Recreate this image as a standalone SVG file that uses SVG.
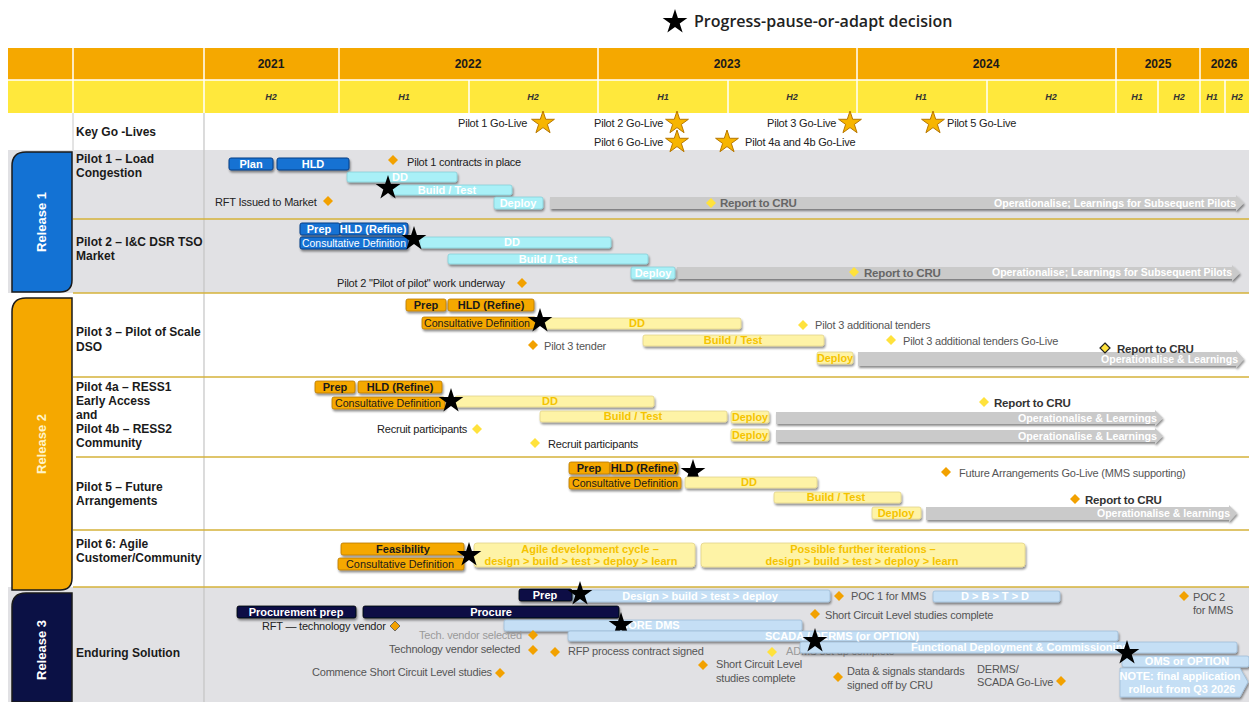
<svg xmlns="http://www.w3.org/2000/svg" xmlns:xlink="http://www.w3.org/1999/xlink" width="1249" height="702" viewBox="0 0 1249 702">
<defs>
<style>
text{font-family:"Liberation Sans",Arial,sans-serif}
.lbl{font-size:12px;font-weight:bold;fill:#1a1a1a}
.yr{font-size:12px;font-weight:bold;fill:#1a1a1a;text-anchor:middle}
.hh{font-size:9px;font-weight:bold;font-style:italic;fill:#333;text-anchor:middle}
.sm{font-size:11px;fill:#222;letter-spacing:-0.2px}
.g{font-size:11px;fill:#555;letter-spacing:-0.2px}
.lg{font-size:11px;fill:#9a9a9a;letter-spacing:-0.2px}
.cru{font-size:11.5px;font-weight:bold;fill:#333;letter-spacing:-0.2px}
.bt{font-size:11px;font-weight:bold;fill:#fff;text-anchor:middle}
.ot{font-size:11px;font-weight:bold;fill:#1a1a1a;text-anchor:middle}
.yt{font-size:11px;font-weight:bold;fill:#F5C300;text-anchor:middle}
.cdw{font-size:10px;fill:#fff;text-anchor:middle}
.cdo{font-size:10px;fill:#1a1a1a;text-anchor:middle}
.at{font-size:11px;font-weight:bold;fill:#fff;text-anchor:end}
.blue{fill:#1572D3;stroke:#0B3F86;stroke-width:1}
.cyan{fill:#A9F0F7;stroke:#86CFD8;stroke-width:0.8}
.org{fill:#F5A800;stroke:#B87800;stroke-width:0.8}
.pale{fill:#FEF3A6;stroke:#E2D38C;stroke-width:0.8}
.navy{fill:#0B1145;stroke:#000;stroke-width:0.8}
.lb{fill:#C5DFF5;stroke:#9EBCD8;stroke-width:0.8}
.arr{fill:#CACACA}
.dO{fill:#F2A100}
.dY{fill:#FFE23C}
.sep{stroke:#D4B23A;stroke-width:1.6}
.bar{filter:url(#sh)}
</style>
<filter id="sh" x="-10%" y="-40%" width="120%" height="200%">
<feDropShadow dx="1" dy="2" stdDeviation="0.8" flood-color="#000" flood-opacity="0.45"/>
</filter>
<path id="bs" d="M0,-13 L2.92,-4.02 L12.36,-4.02 L4.72,1.53 L7.64,10.52 L0,4.97 L-7.64,10.52 L-4.72,1.53 L-12.36,-4.02 L-2.92,-4.02 Z" fill="#000"/>
<path id="os" d="M0,-12 L2.7,-3.71 L11.41,-3.71 L4.36,1.41 L7.05,9.71 L0,4.59 L-7.05,9.71 L-4.36,1.41 L-11.41,-3.71 L-2.7,-3.71 Z" fill="#F7B500" stroke="#B77700" stroke-width="1"/>
<path id="dm" d="M0,-5 L5,0 L0,5 L-5,0 Z"/>
</defs>

<rect x="0" y="0" width="1249" height="702" fill="#fff"/>

<!-- legend -->
<g id="legend">
<use href="#bs" x="675" y="22"/>
<text x="694" y="27" style="font-family:'Open Sans',sans-serif;font-size:16px;font-weight:600;fill:#222">Progress-pause-or-adapt decision</text>
</g>

<!-- header -->
<g id="header">
<rect x="8" y="48" width="1241" height="32" fill="#F5A800"/>
<rect x="8" y="80" width="1241" height="33" fill="#FFE83C"/>
<g stroke="#fff" stroke-width="1.5">
<line x1="8" y1="80" x2="1249" y2="80"/>
<line x1="73" y1="48" x2="73" y2="113"/><line x1="204" y1="48" x2="204" y2="113"/>
<line x1="339" y1="48" x2="339" y2="113"/><line x1="598" y1="48" x2="598" y2="113"/>
<line x1="857" y1="48" x2="857" y2="113"/><line x1="1116" y1="48" x2="1116" y2="113"/>
<line x1="1200" y1="48" x2="1200" y2="113"/>
<line x1="469" y1="80" x2="469" y2="113"/><line x1="728" y1="80" x2="728" y2="113"/>
<line x1="987" y1="80" x2="987" y2="113"/><line x1="1158" y1="80" x2="1158" y2="113"/>
<line x1="1225" y1="80" x2="1225" y2="113"/>
</g>
<text class="yr" x="271" y="68">2021</text>
<text class="yr" x="468" y="68">2022</text>
<text class="yr" x="727" y="68">2023</text>
<text class="yr" x="986" y="68">2024</text>
<text class="yr" x="1158" y="68">2025</text>
<text class="yr" x="1224" y="68">2026</text>
<text class="hh" x="271" y="100">H2</text>
<text class="hh" x="404" y="100">H1</text>
<text class="hh" x="533" y="100">H2</text>
<text class="hh" x="663" y="100">H1</text>
<text class="hh" x="792" y="100">H2</text>
<text class="hh" x="921" y="100">H1</text>
<text class="hh" x="1051" y="100">H2</text>
<text class="hh" x="1137" y="100">H1</text>
<text class="hh" x="1179" y="100">H2</text>
<text class="hh" x="1212" y="100">H1</text>
<text class="hh" x="1237" y="100">H2</text>
</g>

<!-- row backgrounds -->
<g id="rows">
<rect x="8" y="150" width="1241" height="143" fill="#E1E1E4"/>
<rect x="8" y="587" width="1241" height="115" fill="#E1E1E4"/>
<line x1="73" y1="113" x2="73" y2="150" stroke="#c8c8c8" stroke-width="1"/>
<line x1="204" y1="113" x2="204" y2="702" stroke="#C4C4C4" stroke-width="1.2"/>
<line class="sep" x1="73" y1="219" x2="1249" y2="219"/>
<line class="sep" x1="73" y1="293" x2="1249" y2="293"/>
<line class="sep" x1="73" y1="377" x2="1249" y2="377"/>
<line class="sep" x1="76" y1="457" x2="1249" y2="457"/>
<line class="sep" x1="73" y1="530" x2="1249" y2="530"/>
<line class="sep" x1="73" y1="587" x2="1249" y2="587"/>
</g>

<!-- release tabs -->
<g id="release1">
<path d="M12,166 Q12,152 26,152 L72,152 L72,280 Q72,292 60,292 L12,292 Z" fill="#1372D4" stroke="#1a1a1a" stroke-width="1.5"/>
<text transform="translate(46,222) rotate(-90)" text-anchor="middle" style="font-size:13px;font-weight:bold;fill:#fff">Release 1</text>
</g>
<g id="release2">
<path d="M12,312 Q12,298 26,298 L72,298 L72,578 Q72,590 60,590 L12,590 Z" fill="#F5A800" stroke="#1a1a1a" stroke-width="1.5"/>
<text transform="translate(46,444) rotate(-90)" text-anchor="middle" style="font-size:13px;font-weight:bold;fill:#FFF4C8">Release 2</text>
</g>
<g id="release3">
<path d="M12,607 Q12,593 26,593 L72,593 L72,702 L12,702 Z" fill="#0B1145" stroke="#1a1a1a" stroke-width="1.5"/>
<text transform="translate(46,650) rotate(-90)" text-anchor="middle" style="font-size:13px;font-weight:bold;fill:#fff">Release 3</text>
</g>

<!-- row names -->
<g id="names">
<text class="lbl" x="76" y="136">Key Go -Lives</text>
<text class="lbl" x="76" y="163">Pilot 1 – Load</text>
<text class="lbl" x="76" y="177">Congestion</text>
<text class="lbl" x="76" y="246">Pilot 2 – I&amp;C DSR TSO</text>
<text class="lbl" x="76" y="260">Market</text>
<text class="lbl" x="76" y="336">Pilot 3 – Pilot of Scale</text>
<text class="lbl" x="76" y="351">DSO</text>
<text class="lbl" x="76" y="391">Pilot 4a – RESS1</text>
<text class="lbl" x="76" y="405">Early Access</text>
<text class="lbl" x="76" y="419">and</text>
<text class="lbl" x="76" y="433">Pilot 4b – RESS2</text>
<text class="lbl" x="76" y="447">Community</text>
<text class="lbl" x="76" y="491">Pilot 5 – Future</text>
<text class="lbl" x="76" y="505">Arrangements</text>
<text class="lbl" x="76" y="548">Pilot 6: Agile</text>
<text class="lbl" x="76" y="562">Customer/Community</text>
<text class="lbl" x="76" y="657">Enduring Solution</text>
</g>

<!-- key go-lives -->
<g id="golives">
<text class="sm" x="458" y="127">Pilot 1 Go-Live</text><use href="#os" x="543" y="123"/>
<text class="sm" x="594" y="127">Pilot 2 Go-Live</text><use href="#os" x="677" y="123"/>
<text class="sm" x="767" y="127">Pilot 3 Go-Live</text><use href="#os" x="850" y="123"/>
<use href="#os" x="933" y="123"/><text class="sm" x="947" y="127">Pilot 5 Go-Live</text>
<text class="sm" x="594" y="146">Pilot 6 Go-Live</text><use href="#os" x="677" y="142"/>
<use href="#os" x="727" y="142"/><text class="sm" x="745" y="146">Pilot 4a and 4b Go-Live</text>
</g>

<!-- connectors: operationalise arrows -->
<g id="connectors" class="bar">
<polygon class="arr" points="550,197 1236,197 1236,195 1244,203 1236,211 1236,209 550,209"/>
<polygon class="arr" points="677,267 1232,267 1232,265 1240,273 1232,281 1232,279 677,279"/>
<polygon class="arr" points="858,352 1236,352 1236,350 1244,359 1236,368 1236,366 858,366"/>
<polygon class="arr" points="776,412 1155,412 1155,410 1163,418 1155,426 1155,424 776,424"/>
<polygon class="arr" points="776,430 1155,430 1155,428 1163,436 1155,444 1155,442 776,442"/>
<polygon class="arr" points="926,507 1229,507 1229,505 1237,513 1229,522 1229,520 926,520"/>
</g>

<!-- Pilot 1 -->
<g id="pilot1">
<rect class="blue bar" x="229" y="158" width="44" height="12" rx="2"/><text class="bt" x="251" y="168">Plan</text>
<rect class="blue bar" x="277" y="158" width="72" height="12" rx="2"/><text class="bt" x="313" y="168">HLD</text>
<use href="#dm" x="393" y="160" class="dO"/><text class="sm" x="407" y="166">Pilot 1 contracts in place</text>
<rect class="cyan bar" x="347" y="172" width="110" height="10" rx="2"/><text class="bt" x="400" y="181">DD</text>
<rect class="cyan bar" x="390" y="185" width="122" height="10" rx="2"/><text class="bt" x="447" y="194">Build / Test</text>
<use href="#bs" x="388" y="188"/>
<text class="sm" x="215" y="206">RFT Issued to Market</text><use href="#dm" x="328" y="201" class="dO"/>
<rect class="cyan bar" x="494" y="197" width="49" height="12" rx="2"/><text class="bt" x="518" y="207">Deploy</text>
<use href="#dm" x="711" y="203" class="dY"/><text class="cru" x="720" y="207" style="fill:#666">Report to CRU</text>
<text class="at" x="1236" y="207" textLength="242" lengthAdjust="spacingAndGlyphs">Operationalise; Learnings for Subsequent Pilots</text>
</g>

<!-- Pilot 2 -->
<g id="pilot2">
<rect class="blue bar" x="300" y="223" width="40" height="12" rx="2"/><text class="bt" x="319" y="233">Prep</text>
<rect class="blue bar" x="340" y="223" width="68" height="12" rx="2"/><text class="bt" x="373" y="233">HLD (Refine)</text>
<rect class="blue bar" x="300" y="237" width="108" height="12" rx="2"/><text class="cdw" x="354" y="247" textLength="104" lengthAdjust="spacingAndGlyphs">Consultative Definition</text>
<rect class="cyan bar" x="420" y="237" width="191" height="11" rx="2"/><text class="bt" x="512" y="246">DD</text>
<use href="#bs" x="414" y="239"/>
<rect class="cyan bar" x="448" y="254" width="200" height="10" rx="2"/><text class="bt" x="548" y="263">Build / Test</text>
<rect class="cyan bar" x="631" y="267" width="44" height="12" rx="2"/><text class="bt" x="653" y="277">Deploy</text>
<use href="#dm" x="854" y="272" class="dY"/><text class="cru" x="864" y="277" style="fill:#666">Report to CRU</text>
<text class="at" x="1232" y="276" textLength="240" lengthAdjust="spacingAndGlyphs">Operationalise; Learnings for Subsequent Pilots</text>
<text class="sm" x="337" y="287">Pilot 2 "Pilot of pilot" work underway</text><use href="#dm" x="522" y="283" class="dO"/>
</g>

<!-- Pilot 3 -->
<g id="pilot3">
<rect class="org bar" x="406" y="299" width="40" height="12" rx="2"/><text class="ot" x="426" y="309">Prep</text>
<rect class="org bar" x="448" y="299" width="86" height="12" rx="2"/><text class="ot" x="491" y="309">HLD (Refine)</text>
<rect class="org bar" x="422" y="317" width="114" height="12" rx="2"/><text class="cdo" x="477" y="327" textLength="106" lengthAdjust="spacingAndGlyphs">Consultative Definition</text>
<rect class="pale bar" x="545" y="318" width="196" height="11" rx="2"/><text class="yt" x="637" y="327">DD</text>
<use href="#bs" x="540" y="321"/>
<use href="#dm" x="803" y="325" class="dY"/><text class="g" x="815" y="329">Pilot 3 additional tenders</text>
<use href="#dm" x="533" y="345" class="dO"/><text class="g" x="544" y="350">Pilot 3 tender</text>
<rect class="pale bar" x="643" y="335" width="181" height="11" rx="2"/><text class="yt" x="733" y="344">Build / Test</text>
<use href="#dm" x="891" y="340" class="dY"/><text class="g" x="903" y="345">Pilot 3 additional tenders Go-Live</text>
<rect class="pale bar" x="817" y="352" width="36" height="12" rx="2"/><text class="yt" x="835" y="362" textLength="36" lengthAdjust="spacingAndGlyphs">Deploy</text>
<use href="#dm" x="1105" y="348" fill="#FFE23C" stroke="#222" stroke-width="1.2"/><text class="cru" x="1117" y="353">Report to CRU</text>
<text class="at" x="1238" y="363" textLength="137" lengthAdjust="spacingAndGlyphs">Operationalise &amp; Learnings</text>
</g>

<!-- Pilot 4 -->
<g id="pilot4">
<rect class="org bar" x="315" y="381" width="40" height="12" rx="2"/><text class="ot" x="335" y="391">Prep</text>
<rect class="org bar" x="358" y="381" width="84" height="12" rx="2"/><text class="ot" x="400" y="391">HLD (Refine)</text>
<rect class="org bar" x="332" y="397" width="113" height="12" rx="2"/><text class="cdo" x="388" y="407" textLength="106" lengthAdjust="spacingAndGlyphs">Consultative Definition</text>
<rect class="pale bar" x="455" y="396" width="199" height="11" rx="2"/><text class="yt" x="550" y="405">DD</text>
<use href="#bs" x="451" y="401"/>
<rect class="pale bar" x="540" y="411" width="187" height="11" rx="2"/><text class="yt" x="633" y="420">Build / Test</text>
<rect class="pale bar" x="731" y="411" width="38" height="12" rx="2"/><text class="yt" x="750" y="421" textLength="36" lengthAdjust="spacingAndGlyphs">Deploy</text>
<rect class="pale bar" x="731" y="429" width="38" height="12" rx="2"/><text class="yt" x="750" y="439" textLength="36" lengthAdjust="spacingAndGlyphs">Deploy</text>
<text class="at" x="1157" y="422" textLength="139" lengthAdjust="spacingAndGlyphs">Operationalise &amp; Learnings</text>
<text class="at" x="1157" y="440" textLength="139" lengthAdjust="spacingAndGlyphs">Operationalise &amp; Learnings</text>
<use href="#dm" x="984" y="402" class="dY"/><text class="cru" x="994" y="407">Report to CRU</text>
<text class="sm" x="377" y="433">Recruit participants</text><use href="#dm" x="477" y="429" class="dY"/>
<use href="#dm" x="535" y="443" class="dY"/><text class="sm" x="548" y="448">Recruit participants</text>
</g>

<!-- Pilot 5 -->
<g id="pilot5">
<rect class="org bar" x="569" y="462" width="41" height="12" rx="2"/><text class="ot" x="589" y="472">Prep</text>
<rect class="org bar" x="610" y="462" width="68" height="12" rx="2"/><text class="ot" x="644" y="472">HLD (Refine)</text>
<rect class="org bar" x="569" y="477" width="112" height="12" rx="2"/><text class="cdo" x="625" y="487" textLength="106" lengthAdjust="spacingAndGlyphs">Consultative Definition</text>
<use href="#bs" x="693" y="472"/>
<rect class="pale bar" x="685" y="477" width="132" height="11" rx="2"/><text class="yt" x="749" y="486">DD</text>
<rect class="pale bar" x="774" y="492" width="127" height="11" rx="2"/><text class="yt" x="836" y="501">Build / Test</text>
<rect class="pale bar" x="872" y="507" width="49" height="12" rx="2"/><text class="yt" x="896" y="517">Deploy</text>
<text class="at" x="1230" y="517" textLength="133" lengthAdjust="spacingAndGlyphs">Operationalise &amp; learnings</text>
<use href="#dm" x="946" y="472" class="dO"/><text class="g" x="959" y="477">Future Arrangements Go-Live (MMS supporting)</text>
<use href="#dm" x="1075" y="499" class="dO"/><text class="cru" x="1085" y="504">Report to CRU</text>
</g>

<!-- Pilot 6 -->
<g id="pilot6">
<rect class="org bar" x="341" y="543" width="123" height="12" rx="2"/><text class="ot" x="403" y="553">Feasibility</text>
<rect class="org bar" x="338" y="558" width="126" height="12" rx="2"/><text class="cdo" x="400" y="568" textLength="108" lengthAdjust="spacingAndGlyphs">Consultative Definition</text>
<rect class="pale bar" x="474" y="543" width="221" height="24" rx="3"/>
<text class="yt" x="590" y="553">Agile development cycle –</text>
<text class="yt" x="581" y="565">design &gt; build &gt; test &gt; deploy &gt; learn</text>
<use href="#bs" x="469" y="555"/>
<rect class="pale bar" x="701" y="543" width="324" height="24" rx="3"/>
<text class="yt" x="863" y="553">Possible further iterations –</text>
<text class="yt" x="862" y="565">design &gt; build &gt; test &gt; deploy &gt; learn</text>
</g>

<!-- Enduring solution -->
<g id="enduring">
<rect class="lb bar" x="572" y="590" width="258" height="12" rx="2"/><text class="bt" x="700" y="600">Design &gt; build &gt; test &gt; deploy</text>
<rect class="navy bar" x="519" y="589" width="53" height="12" rx="2"/><text class="bt" x="545" y="599">Prep</text>
<use href="#bs" x="580" y="594"/>
<use href="#dm" x="839" y="596" class="dO"/><text class="g" x="851" y="600">POC 1 for MMS</text>
<rect class="lb bar" x="933" y="591" width="127" height="11" rx="2"/><text class="bt" x="995" y="600">D &gt; B &gt; T &gt; D</text>
<use href="#dm" x="1184" y="596" class="dO"/><text class="g" x="1193" y="601">POC 2</text><text class="g" x="1193" y="614">for MMS</text>
<rect class="navy bar" x="237" y="606" width="119" height="12" rx="2"/><text class="bt" x="296" y="616">Procurement prep</text>
<rect class="navy bar" x="363" y="606" width="256" height="12" rx="2"/><text class="bt" x="491" y="616">Procure</text>
<use href="#dm" x="815" y="614" class="dO"/><text class="g" x="825" y="619">Short Circuit Level studies complete</text>
<text class="sm" x="262" y="630">RFT — technology vendor</text><use href="#dm" x="395" y="626" class="dO" stroke="#555" stroke-width="0.8"/>
<rect class="lb bar" x="504" y="620" width="298" height="11" rx="2"/><text class="bt" x="650" y="629">CORE DMS</text>
<use href="#bs" x="621" y="625"/>
<text class="lg" x="419" y="639">Tech. vendor selected</text><use href="#dm" x="533" y="635" class="dO"/>
<text class="lg" x="786" y="655">ADMS set up complete</text><use href="#dm" x="772" y="652" class="dY"/>
<rect class="lb bar" x="568" y="631" width="550" height="10" rx="2"/><text class="bt" x="765" y="640" style="text-anchor:start">SCADA / DERMS (or OPTION)</text>
<rect class="lb bar" x="800" y="642" width="437" height="11" rx="2"/><text class="bt" x="1020" y="651">Functional Deployment &amp; Commissioning</text>
<use href="#bs" x="815" y="641"/>
<text class="g" x="389" y="653">Technology vendor selected</text><use href="#dm" x="533" y="650" class="dO"/>
<use href="#dm" x="555" y="652" class="dO"/><text class="g" x="568" y="655">RFP process contract signed</text>
<rect class="lb bar" x="1122" y="656" width="127" height="11" rx="2"/><text class="bt" x="1187" y="665">OMS or OPTION</text>
<use href="#bs" x="1127" y="653"/>
<use href="#dm" x="703" y="665" class="dO"/><text class="g" x="716" y="668">Short Circuit Level</text><text class="g" x="716" y="682">studies complete</text>
<text class="g" x="312" y="676">Commence Short Circuit Level studies</text><use href="#dm" x="500" y="673" class="dO"/>
<use href="#dm" x="838" y="677" class="dO"/><text class="g" x="847" y="675">Data &amp; signals standards</text><text class="g" x="847" y="689">signed off by CRU</text>
<text class="g" x="977" y="673">DERMS/</text><text class="g" x="977" y="686">SCADA Go-Live</text><use href="#dm" x="1061" y="681" class="dO"/>
<polygon class="lb bar" points="1120,668 1240,668 1248,682 1240,697 1120,697"/>
<text class="bt" x="1180" y="680">NOTE: final application</text>
<text class="bt" x="1182" y="693">rollout from Q3 2026</text>
</g>
</svg>
